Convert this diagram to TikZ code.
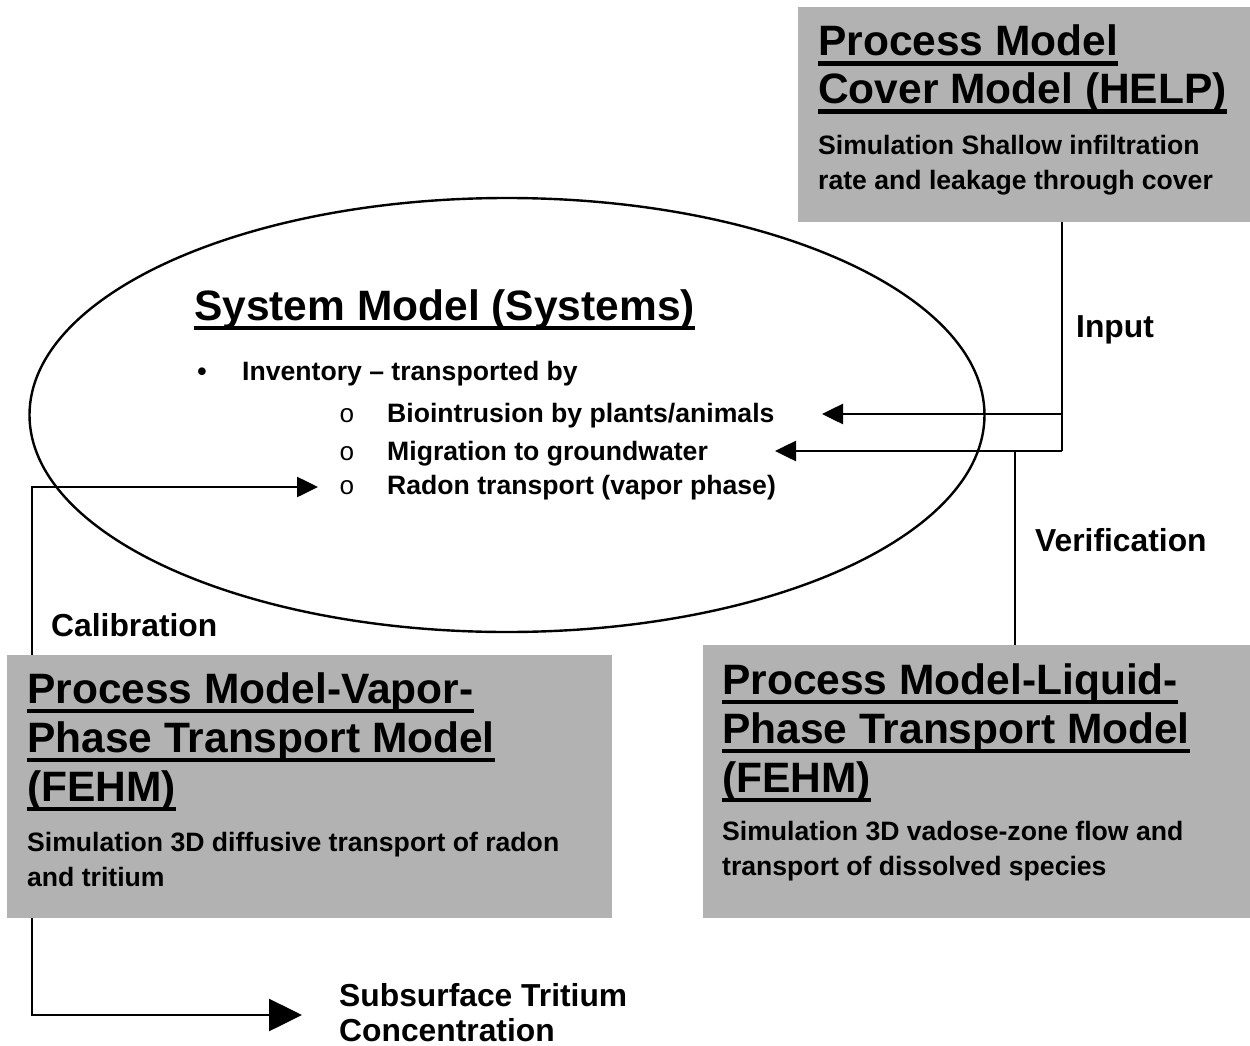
\documentclass[tikz,border=0pt]{standalone}
\usepackage{fontspec}
\setmainfont{Liberation Sans}
\newfontfamily\monofnt{Liberation Mono}
\usetikzlibrary{arrows.meta,shapes.geometric}
\definecolor{boxgray}{HTML}{B2B2B2}
\newcommand\ulx[1]{\setbox0\hbox{#1}\rlap{\rule[-10pt]{\wd0}{4.5pt}}\box0}
\tikzset{
  procbox/.style={fill=boxgray, draw=none, anchor=north west, inner sep=0pt, outer sep=0pt},
  hd/.style={anchor=base west, inner sep=0pt, font=\fontsize{42.5}{50}\selectfont\bfseries},
  bd/.style={anchor=base west, inner sep=0pt, font=\fontsize{26.6}{34}\selectfont\bfseries},
  lbl/.style={anchor=base west, inner sep=0pt, font=\fontsize{31.8}{36}\selectfont\bfseries},
  subm/.style={anchor=base west, inner sep=0pt, font=\fontsize{26}{30}\selectfont\monofnt},
  conn/.style={line width=2.6pt, line cap=butt, line join=miter},
  tip/.style={conn, -{Triangle[length=21pt,width=20pt]}},
  bigtip/.style={conn, -{Triangle[length=33pt,width=32pt]}}
}
\begin{document}
\begin{tikzpicture}[x=1pt,y=-1pt]
\useasboundingbox (0,0) rectangle (1250,1046);
% boxes
\node[procbox, minimum width=452pt, minimum height=215pt] (cover) at (798,7) {};
\node[procbox, minimum width=605pt, minimum height=263pt] (vapor) at (7,655) {};
\node[procbox, minimum width=547pt, minimum height=273pt] (liquid) at (703,645) {};
% ellipse
\node[draw, ellipse, line width=2.4pt, minimum width=955pt, minimum height=434pt, inner sep=0pt] (sys) at (507,415) {};
% cover box text
\node[hd] (cvh1) at (818,56) {\ulx{Process Model}};
\node[hd] (cvh2) at (818,104) {\ulx{Cover Model (HELP)}};
\node[bd] (cvb1) at (818,154) {Simulation Shallow infiltration};
\node[bd] (cvb2) at (818,189) {rate and leakage through cover};
% system text
\node[hd] (sysh) at (194,320) {\ulx{System Model (Systems)}};
\node[bd, anchor=base] (bul) at (202,380) {\textbullet};
\node[bd] (inv) at (242,380) {Inventory – transported by};
\node[subm] (o1) at (339,422) {o};
\node[bd] (it1) at (387,422) {Biointrusion by plants/animals};
\node[subm] (o2) at (339,460) {o};
\node[bd] (it2) at (387,460) {Migration to groundwater};
\node[subm] (o3) at (339,494) {o};
\node[bd] (it3) at (387,494) {Radon transport (vapor phase)};
% labels
\node[lbl] (inp) at (1076,337) {Input};
\node[lbl] (ver) at (1035,551) {Verification};
\node[lbl] (cal) at (51,636) {Calibration};
% vapor box text
\node[hd] (vph1) at (27,703) {\ulx{Process Model-Vapor-}};
\node[hd] (vph2) at (27,752) {\ulx{Phase Transport Model}};
\node[hd] (vph3) at (27,801) {\ulx{(FEHM)}};
\node[bd] (vpb1) at (27,851) {Simulation 3D diffusive transport of radon};
\node[bd] (vpb2) at (27,886) {and tritium};
% liquid box text
\node[hd] (lqh1) at (722,694) {\ulx{Process Model-Liquid-}};
\node[hd] (lqh2) at (722,743) {\ulx{Phase Transport Model}};
\node[hd] (lqh3) at (722,792) {\ulx{(FEHM)}};
\node[bd] (lqb1) at (722,840) {Simulation 3D vadose-zone flow and};
\node[bd] (lqb2) at (722,875) {transport of dissolved species};
% output text
\node[lbl] (out1) at (339,1006) {Subsurface Tritium};
\node[lbl] (out2) at (339,1041) {Concentration};
% connector coordinates
\coordinate (jA) at (1062,414);
\coordinate (jB) at (1062,451);
\coordinate (tA) at (822,414);
\coordinate (tB) at (775,451);
\coordinate (jV) at (1015,451);
\coordinate (jC) at (32,487);
\coordinate (tC) at (318,487);
\coordinate (jD) at (32,1015);
\coordinate (tD) at (302,1015);
% connectors
\draw[conn] (cover.south -| jA) -- (jB);
\draw[tip] (jA) -- (tA);
\draw[tip] (jB) -- (tB);
\draw[conn] (jV) -- (jV |- liquid.north);
\draw[tip] (vapor.north -| jC) -- (jC) -- (tC);
\draw[bigtip] (vapor.south -| jD) -- (jD) -- (tD);
\end{tikzpicture}
\end{document}
